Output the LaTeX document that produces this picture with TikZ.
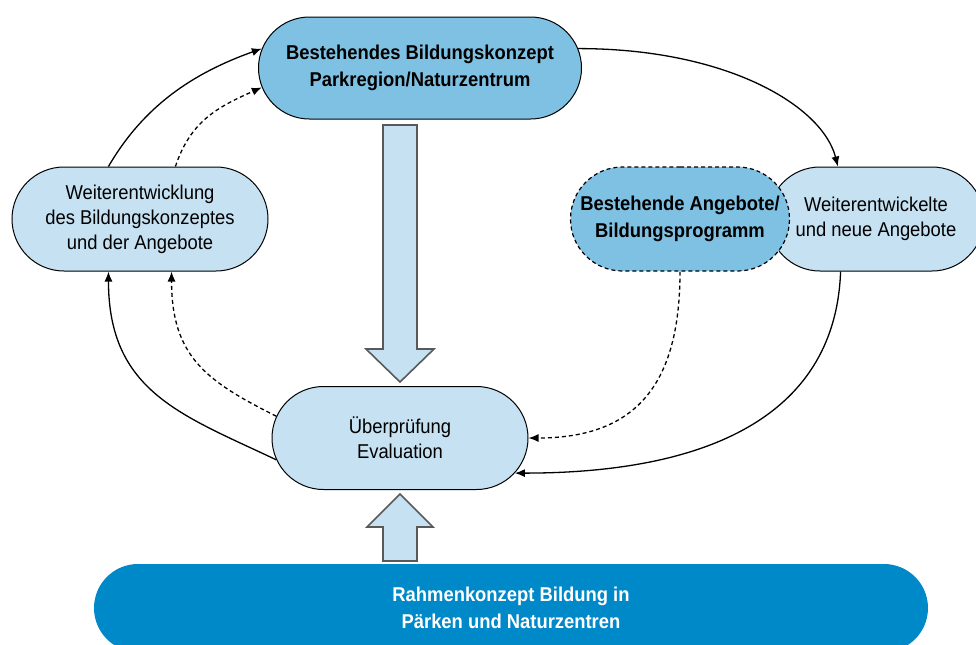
\documentclass[tikz,border=0pt]{standalone}
\usepackage{fontspec}
\setmainfont{Liberation Sans}[FakeStretch=0.92]
\usetikzlibrary{shapes.misc,arrows.meta}
\definecolor{paleblue}{RGB}{197,225,242}
\definecolor{midblue}{RGB}{127,193,227}
\definecolor{deepblue}{RGB}{0,137,201}
\tikzstyle{stage}=[rounded rectangle, draw, fill=paleblue, line width=0.5pt, align=center, inner xsep=-25pt, inner ysep=0pt, minimum height=52pt, font=\fontsize{10}{12.5}\selectfont]
\tikzstyle{existing}=[stage, fill=midblue, font=\fontsize{10}{13.5}\selectfont\bfseries]
\tikzstyle{frame}=[rounded rectangle, fill=deepblue, text=white, align=center, inner xsep=-25pt, inner ysep=0pt, minimum height=44pt, font=\fontsize{10}{13.5}\selectfont\bfseries]
\tikzstyle{blockarrow}=[draw=black!65, fill=paleblue, line width=0.8pt]
\tikzstyle{link}=[line width=0.65pt, -{Latex[length=5pt,width=4pt]}]
\tikzstyle{plan}=[link, dash pattern=on 2pt off 1.5pt]
\begin{document}
\begin{tikzpicture}[x=0.5pt, y=-0.5pt]
                \useasboundingbox (0,0) rectangle (976,644);
                \clip (0,0) rectangle (976,644);
                \node[existing, minimum width=111.5pt, minimum height=51pt] (konzept) at (420,68) {Bestehendes Bildungskonzept\\Parkregion/Naturzentrum};
                \node[stage, minimum width=78pt] (weiter) at (140,219) {Weiterentwicklung\\des Bildungskonzeptes\\und der Angebote};
                \node[stage, minimum width=58pt] (neu) at (876,219) {Weiterentwickelte\\und neue Angebote};
                \node[existing, dash pattern=on 2pt off 1.5pt, line width=0.6pt, minimum width=59.5pt] (angebote) at (680,219) {Bestehende Angebote/\\Bildungsprogramm};
                \node[stage, minimum width=78pt, minimum height=51.5pt] (eval) at (400,438) {Überprüfung\\Evaluation};
                \node[frame, minimum width=367pt] (rahmen) at (511,608) {Rahmenkonzept Bildung in\\Pärken und Naturzentren};
                \draw[blockarrow] (383,125) -- (417,125) -- (417,349) -- (434,349) -- (400,382) -- (366,349) -- (383,349) -- cycle;
                \draw[blockarrow] (383,561) -- (417,561) -- (417,527) -- (433,527) -- (400,494) -- (367,527) -- (383,527) -- cycle;
                \draw[link] (konzept.7) .. controls +(150,0) and +(-15,-60) .. (neu.126);
                \draw[link] (neu.236) .. controls +(-5,140) and +(200,0) .. (eval.343);
                \draw[plan] (angebote.south) .. controls +(0,110) and +(110,0) .. (eval.east);
                \draw[link] (eval.190) .. controls +(-95,-45) and +(0,120) .. (weiter.239);
                \draw[plan] (eval.170) .. controls +(-70,-35) and +(0,85) .. (weiter.301);
                \draw[link] (weiter.121) .. controls +(35,-60) and +(-70,25) .. (konzept.173);
                \draw[plan] (weiter.56) .. controls +(15,-45) and +(-45,20) .. (konzept.187);
\end{tikzpicture}
\end{document}
